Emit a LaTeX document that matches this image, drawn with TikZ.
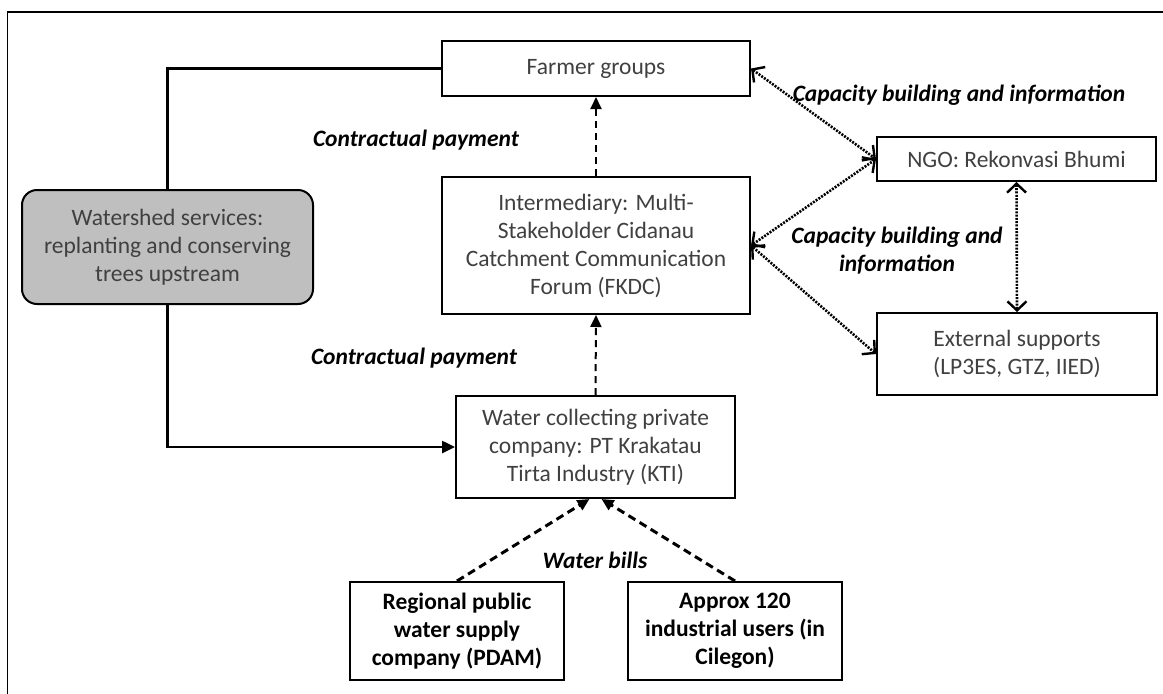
\documentclass[tikz,border=0pt]{standalone}
\usepackage{fontspec}
\setmainfont{Carlito}
\usepackage{tikz}
\usetikzlibrary{arrows.meta}

\definecolor{wsgray}{RGB}{191,191,191}
\definecolor{boxtext}{RGB}{64,64,64}

\begin{document}
\begin{tikzpicture}[x=1pt, y=-1pt,
    every node/.style={font=\fontsize{23.5}{28}\selectfont, align=center, inner sep=0pt},
    actor/.style={draw, line width=2pt, text=boxtext},
    payer/.style={draw, line width=2pt, font=\fontsize{23.5}{28}\selectfont\bfseries},
    flowlabel/.style={font=\fontsize{23.5}{28}\selectfont\bfseries\itshape},
    plain/.style={line width=2.5pt},
    pay/.style={line width=2pt, dash pattern=on 7pt off 5pt, -{Triangle[length=12pt, width=11pt]}},
    bill/.style={line width=3pt, dash pattern=on 8pt off 5pt, -{Triangle[length=12pt, width=11pt]}},
    info/.style={line width=2.6pt, dash pattern=on 2pt off 1.3pt,
      {Straight Barb[length=9pt, width=19pt, line width=2.4pt]}-{Straight Barb[length=9pt, width=19pt, line width=2.4pt]}}]
  \useasboundingbox (0,0) rectangle (1163,694);
  \draw[line width=1.5pt] (7.5,694) -- (7.5,12) -- (1163,12);

  % the people in the scheme
  \node[actor, minimum width=308pt, minimum height=55pt] (farmer) at (596,68.5) {Farmer groups};
  \node[actor, minimum width=308pt, minimum height=137pt] (inter) at (596,245.5)
    {Intermediary: Multi-\\Stakeholder Cidanau\\Catchment Communication\\Forum (FKDC)};
  \node[actor, rounded corners=15pt, fill=wsgray, minimum width=291pt, minimum height=114pt] (ws) at (167.5,247)
    {Watershed services:\\replanting and conserving\\trees upstream};
  \node[actor, minimum width=279pt, minimum height=102pt] (kti) at (595.5,447)
    {Water collecting private\\company: PT Krakatau\\Tirta Industry (KTI)};
  \node[actor, minimum width=279pt, minimum height=44pt] (ngo) at (1016.5,159) {NGO: Rekonvasi Bhumi};
  \node[actor, minimum width=280pt, minimum height=82pt] (ext) at (1017,354)
    {External supports\\(LP3ES, GTZ, IIED)};
  \node[payer, minimum width=214pt, minimum height=98pt] (pdam) at (457,631)
    {Regional public\\water supply\\company (PDAM)};
  \node[payer, minimum width=214pt, minimum height=98pt] (users) at (735,631)
    {Approx 120\\industrial users (in\\Cilegon)};

  % flows
  \draw[plain] (farmer.west) -| (ws.north);
  \draw[plain, -{Triangle[length=13pt, width=12pt]}] (ws.south) |- (kti.west);
  \draw[pay] (inter.north) -- (farmer.south);
  \draw[pay] (kti.north) -- (inter.south);
  \draw[bill] (pdam.north) -- ([xshift=-6pt]kti.south);
  \draw[bill] (users.north) -- ([xshift=6pt]kti.south);
  \draw[info] (farmer.east) -- (ngo.west);
  \draw[info] (inter.east) -- (ngo.west);
  \draw[info] (inter.east) -- (ext.west);
  \draw[info] (ngo.south) -- (ext.north);

  \node[flowlabel] (payup) at (416,140) {Contractual payment};
  \node[flowlabel] (paydown) at (414,358) {Contractual payment};
  \node[flowlabel] (bills) at (595,560) {Water bills};
  \node[flowlabel] (capup) at (959,95) {Capacity building and information};
  \node[flowlabel] (capmid) at (897,251) {Capacity building and\\information};
\end{tikzpicture}
\end{document}
